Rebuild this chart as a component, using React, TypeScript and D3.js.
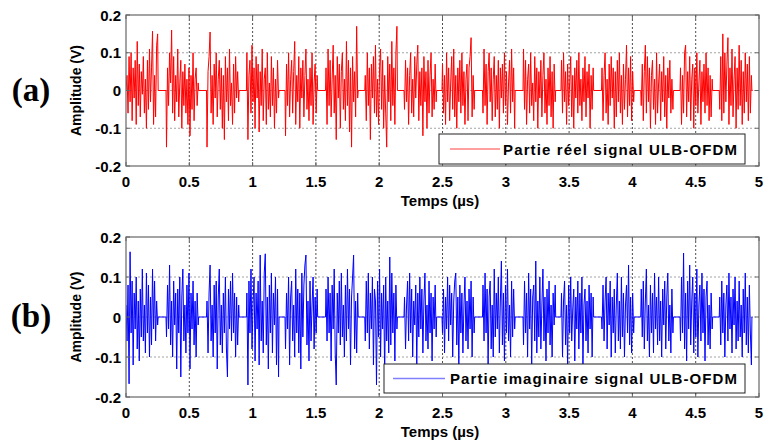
import React from "react";
import * as d3 from "d3";

// Burst (OFDM symbol) start times in µs
const burstStarts = [0, 0.32, 0.64, 0.955, 1.26, 1.58, 1.89, 2.2, 2.5, 2.82, 3.14, 3.44, 3.76, 4.07, 4.38, 4.69];
const burstLength = 0.25; // µs
const signalEnd = 4.95; // µs

// Real part, values in mV, one row per burst
const realBursts: number[][] = [
  [0, 40, -60, 90, -30, 100, -80, 60, -20, 80, -90, 130, -40, 70, -70, 50, -10, 90, -60, 30, -100, 80, -50, 110, -30, 60, 157, -90, 40, -70, 120, 150],
  [-150, 60, -40, 100, 20, 160, -60, 90, -80, 40, -30, 110, -70, 20, 80, -100, 50, -40, 70, -60, 30, -90, 60, -120, 40, -50, 100, -80, 30, 60, -40, 20],
  [-150, 50, 90, 155, -60, 40, -90, 70, -20, 100, -70, 30, 80, -50, 60, -100, 40, -130, 90, -30, 60, -80, 110, -40, 20, -90, 70, -60, 90, -20, 50, -30],
  [100, -130, 40, 80, -60, 120, -30, 60, -100, 90, -20, 70, -110, 50, -40, 110, -80, 30, 60, -90, 100, -50, 20, -70, 90, -40, 60, -100, 30, -60, 80, -20],
  [-120, 70, -40, 100, -70, 30, 80, -60, 50, 130, -90, 40, -30, 90, -100, 60, -20, 80, -70, 40, 110, -50, 30, -80, 60, -40, 100, -90, 20, 70, -60, 40],
  [60, -90, 110, -40, 80, -70, 30, 120, -60, 40, -130, 90, -20, 70, -100, 50, 100, -50, 30, -80, 130, -40, 80, -110, 60, -150, 90, -30, 50, -70, 170, -20],
  [40, -80, 100, -40, 60, -130, 70, -20, 90, -60, 120, -70, 30, -90, 60, 110, -50, 80, -100, 40, -60, -150, 90, -30, 70, -80, 130, -40, 60, -90, 100, 170],
  [-50, 80, -30, 60, -90, 40, 100, -60, 30, -70, 90, -20, 70, 120, -80, 50, -40, 60, -120, 90, -30, 50, -100, 80, -60, 40, 100, -70, 30, -50, 70, -30],
  [70, -60, 40, -90, 100, -30, 60, -80, 20, 90, -50, 110, -70, 40, -100, 60, -30, 80, -60, 100, -40, 50, -90, 30, 70, -80, 60, 90, 140, -70, 40, -50],
  [-60, 110, -40, 70, -90, 50, 100, -30, 60, -80, 30, 90, -70, 40, -50, 80, -100, 60, -20, 70, -60, 100, -40, 50, -90, 20, 80, -60, 110, -30, 60, -100],
  [110, -50, 80, -90, 30, 70, -60, 100, -40, 20, -80, 90, -30, 60, -100, 50, -20, 80, -70, 40, 100, -60, 30, -90, 60, -40, 90, -70, 50, -100, 70, -30],
  [80, -60, 100, -30, 50, -90, 70, -40, 20, 90, -70, 40, -100, 60, -20, 80, -60, 100, -40, 30, -80, 60, -30, 90, -70, 50, -20, 70, -100, 40, -50, 60],
  [60, -80, 40, 100, -60, 30, -90, 70, -40, 90, -20, 60, -100, 50, -70, 80, -30, 100, -60, 40, -90, 70, -50, 30, 120, -70, 60, -40, 90, -80, 50, -30],
  [-40, 70, -80, 50, 120, -60, 90, -30, 60, -100, 40, 80, -50, 30, -90, 100, -60, 20, 70, -80, 50, -30, 90, -70, 40, -100, 60, -20, 80, -60, 30, -50],
  [60, -90, 40, -60, 100, 120, -70, 50, -30, 90, -80, 30, 70, -100, 60, -40, 100, -60, 20, 80, -90, 50, -30, 70, -60, 100, -40, 60, -80, 40, -70, 30],
  [-50, 90, -80, 150, -60, 100, -30, 70, 140, -90, 60, -40, 110, -70, 30, 90, -100, 60, -50, 120, -40, 80, -90, 50, -60, 100, -30, 70, -80, 90, -60, 40],
];

// Imaginary part, values in mV, one row per burst
const imagBursts: number[][] = [
  [30, -60, 80, -167, 163, -40, 90, -120, 60, -30, 100, -80, 40, -110, 70, -50, 120, -60, 30, -90, 110, -40, 80, -100, 50, -70, 120, -30, 90, -60, 40, -20],
  [-50, 80, -30, 130, -70, 40, -100, 90, -20, 60, -130, 70, -40, 100, -150, 50, 120, -60, 30, -90, 80, -40, 110, -130, 60, -30, 90, -70, 40, -100, 60, -20],
  [40, -90, 60, 130, -60, 30, -100, 80, -40, 90, -130, 50, 120, -70, 30, -90, 60, -40, 100, -80, -150, 70, -30, 90, -60, 110, -40, 60, -100, 50, -70, 30],
  [60, -170, 90, -40, 120, -80, 30, 100, -110, 60, -30, 90, -120, 155, -60, 40, -90, 110, 158, -70, 50, -130, 80, -40, 110, -90, 60, -20, 100, -120, 70, -150],
  [-80, 60, -30, 100, -120, 50, 90, -60, 30, -100, 120, -40, 70, -90, 60, -130, 110, -50, 80, 130, 155, -70, 40, -110, 90, -60, 30, 100, -80, 50, -40, 70],
  [70, -60, 100, -40, 60, -110, 80, -30, 120, -90, -170, 60, -40, 90, -70, 110, -50, 30, -100, 80, -60, 120, -30, 70, -120, 50, 100, 155, -80, 40, -90, 60],
  [-60, 90, -40, 110, -80, 60, -30, 100, -120, 70, 40, -170, 90, -50, 120, -100, 60, -30, 80, -150, 100, -60, 40, -90, 150, -70, 110, -40, 60, -110, 80, -30],
  [50, -80, 30, 90, -60, 110, -40, 70, -100, 40, -20, 80, -120, 60, -50, 100, -30, 70, -90, 40, 110, -60, 30, -80, 90, -40, 60, -110, 50, -30, 80, -50],
  [-40, 70, -90, 50, -30, 100, -60, 80, -20, 60, -100, 40, 90, 110, -70, 50, -120, 80, -40, 60, -90, 30, 100, -60, 40, -80, 70, -30, 90, -100, 50, -40],
  [80, -60, 110, -40, 70, -120, 50, 90, -80, 30, -100, 120, -50, 60, -30, 100, -90, 40, 140, -70, 60, -110, 80, -40, 120, -60, 30, -100, 90, -50, 70, -30],
  [-70, 90, -40, 60, -100, 110, -30, 70, -120, 50, 80, -60, 140, -90, 40, -50, 100, -80, 30, 120, -60, 50, -110, 70, -40, 90, -70, 30, -100, 60, -20, 80],
  [60, -100, 40, 90, -70, 30, -120, 80, -40, 100, -60, 20, 70, -110, 50, -30, 90, -80, 60, -40, 100, -120, 30, 70, -60, 40, -90, 80, -30, 60, -100, 50],
  [-30, 80, -60, 40, 100, -80, 60, -20, 90, -100, 50, -40, 70, -90, 30, 110, -60, 40, -80, 100, -50, 60, -100, 30, 80, -40, 130, -70, 50, -90, 60, -40],
  [70, -50, 90, -80, 40, 120, -60, 30, -100, 80, -40, 60, -90, 110, -30, 50, -70, 100, -60, 40, -100, 70, -20, 90, -80, 50, 110, -60, 30, -90, 70, -40],
  [-60, 100, -40, 160, -80, 60, -110, 90, -30, 130, -70, 40, 100, -90, 60, -50, 120, -100, 30, 80, -60, 110, -40, 70, -110, 50, 90, -70, 30, -80, 60, -30],
  [50, -70, 90, -40, 60, -100, 30, 80, -60, 110, -30, 50, -90, 70, -20, 100, -80, 40, -60, 90, -50, 30, -100, 70, -40, 110, -70, 50, -90, 80, -40, -120],
];

const xTicks = [0, 0.5, 1, 1.5, 2, 2.5, 3, 3.5, 4, 4.5, 5];
const xTickLabels = ["0", "0.5", "1", "1.5", "2", "2.5", "3", "3.5", "4", "4.5", "5"];
const yTicks = [-0.2, -0.1, 0, 0.1, 0.2];
const yTickLabels = ["-0.2", "-0.1", "0", "0.1", "0.2"];

function buildSeries(bursts: number[][]): [number, number][] {
  const pts: [number, number][] = [];
  bursts.forEach((vals, k) => {
    const s = burstStarts[k];
    const dt = burstLength / (vals.length - 1);
    if (k > 0) pts.push([s - dt * 0.5, 0]);
    vals.forEach((v, i) => pts.push([s + i * dt, v / 1000]));
    pts.push([s + burstLength + dt * 0.5, 0]);
  });
  pts.push([signalEnd, 0]);
  return pts;
}

const FONT = "'Liberation Sans', Arial, sans-serif";
const FS = 15;

type PanelProps = {
  top: number;
  bottom: number;
  bursts: number[][];
  color: string;
  legendColor: string;
  letter: string;
  legendText: string;
  legendBox: { x: number; y: number; w: number; h: number; lineX0: number; lineX1: number; textX: number; textW: number };
};

function Panel({ top, bottom, bursts, color, legendColor, letter, legendText, legendBox }: PanelProps) {
  const left = 126;
  const right = 759;
  const x = d3.scaleLinear().domain([0, 5]).range([left, right]);
  const y = d3.scaleLinear().domain([-0.2, 0.2]).range([bottom, top]);
  const data = buildSeries(bursts);
  const line = d3
    .line<[number, number]>()
    .x((d) => x(d[0]))
    .y((d) => y(d[1]));
  const clipId = `clip-${letter}`;
  return (
    <g>
      <defs>
        <clipPath id={clipId}>
          <rect x={left} y={top} width={right - left} height={bottom - top} />
        </clipPath>
      </defs>
      <rect x={left} y={top} width={right - left} height={bottom - top} fill="#fff" />
      {/* grid */}
      {xTicks.slice(1, -1).map((t) => (
        <line key={"gx" + t} x1={x(t)} x2={x(t)} y1={top} y2={bottom} stroke="#222" strokeWidth={0.8} strokeDasharray="2,2" />
      ))}
      {yTicks.slice(1, -1).map((t) => (
        <line key={"gy" + t} x1={left} x2={right} y1={y(t)} y2={y(t)} stroke="#999" strokeWidth={0.9} strokeDasharray="2,2" />
      ))}
      {/* signal */}
      <path d={line(data) || ""} fill="none" stroke={color} strokeWidth={1} clipPath={`url(#${clipId})`} />
      {/* frame */}
      <rect x={left} y={top} width={right - left} height={bottom - top} fill="none" stroke="#666" strokeWidth={1.2} />
      {/* ticks */}
      {xTicks.map((t, i) => (
        <g key={"tx" + t}>
          <line x1={x(t)} x2={x(t)} y1={bottom} y2={bottom - 4} stroke="#666" />
          <line x1={x(t)} x2={x(t)} y1={top} y2={top + 4} stroke="#666" />
          <text x={x(t)} y={bottom + 21} textAnchor="middle" fontFamily={FONT} fontWeight="bold" fontSize={FS} fill="#000">
            {xTickLabels[i]}
          </text>
        </g>
      ))}
      {yTicks.map((t, i) => (
        <g key={"ty" + t}>
          <line x1={left} x2={left + 4} y1={y(t)} y2={y(t)} stroke="#666" />
          <line x1={right} x2={right - 4} y1={y(t)} y2={y(t)} stroke="#666" />
          <text x={left - 5} y={y(t) + 5.5} textAnchor="end" fontFamily={FONT} fontWeight="bold" fontSize={FS} fill="#000">
            {yTickLabels[i]}
          </text>
        </g>
      ))}
      {/* axis labels */}
      <text
        transform={`translate(81, ${(top + bottom) / 2}) rotate(-90)`}
        textAnchor="middle"
        fontFamily={FONT}
        fontWeight="bold"
        fontSize={FS - 1}
        fill="#000"
      >
        Amplitude (V)
      </text>
      <text x={440} y={bottom + 40} textAnchor="middle" fontFamily={FONT} fontWeight="bold" fontSize={FS} fill="#000">
        Temps (µs)
      </text>
      <text x={31} y={(top + bottom) / 2 + 10} textAnchor="middle" fontFamily="'Liberation Serif', 'Times New Roman', serif" fontWeight="bold" fontSize={33} fill="#000">
        ({letter})
      </text>
      {/* legend */}
      <rect x={legendBox.x} y={legendBox.y} width={legendBox.w} height={legendBox.h} fill="#fff" stroke="#222" strokeWidth={1} />
      <line x1={legendBox.lineX0} x2={legendBox.lineX1} y1={legendBox.y + legendBox.h / 2} y2={legendBox.y + legendBox.h / 2} stroke={legendColor} strokeWidth={1.5} />
      <text
        x={legendBox.textX}
        y={legendBox.y + legendBox.h / 2 + 5.5}
        fontFamily={FONT}
        fontWeight="bold"
        fontSize={FS}
        fill="#000"
        textLength={legendBox.textW}
        lengthAdjust="spacing"
      >
        {legendText}
      </text>
    </g>
  );
}

export default function App() {
  return (
    <svg width={766} height={443} style={{ position: "absolute", left: 0, top: 0, background: "#fff" }}>
      <rect width={766} height={443} fill="#fff" />
      <Panel
        top={15}
        bottom={166}
        bursts={realBursts}
        color="#ff0000"
        legendColor="#ff8080"
        letter="a"
        legendText="Partie réel signal  ULB-OFDM"
        legendBox={{ x: 439, y: 134, w: 306, h: 30, lineX0: 450, lineX1: 500, textX: 503, textW: 234 }}
      />
      <Panel
        top={237}
        bottom={397}
        bursts={imagBursts}
        color="#0000ff"
        legendColor="#8080ff"
        letter="b"
        legendText="Partie imaginaire signal  ULB-OFDM"
        legendBox={{ x: 384, y: 364, w: 361, h: 29, lineX0: 393, lineX1: 445, textX: 450, textW: 287 }}
      />
    </svg>
  );
}
